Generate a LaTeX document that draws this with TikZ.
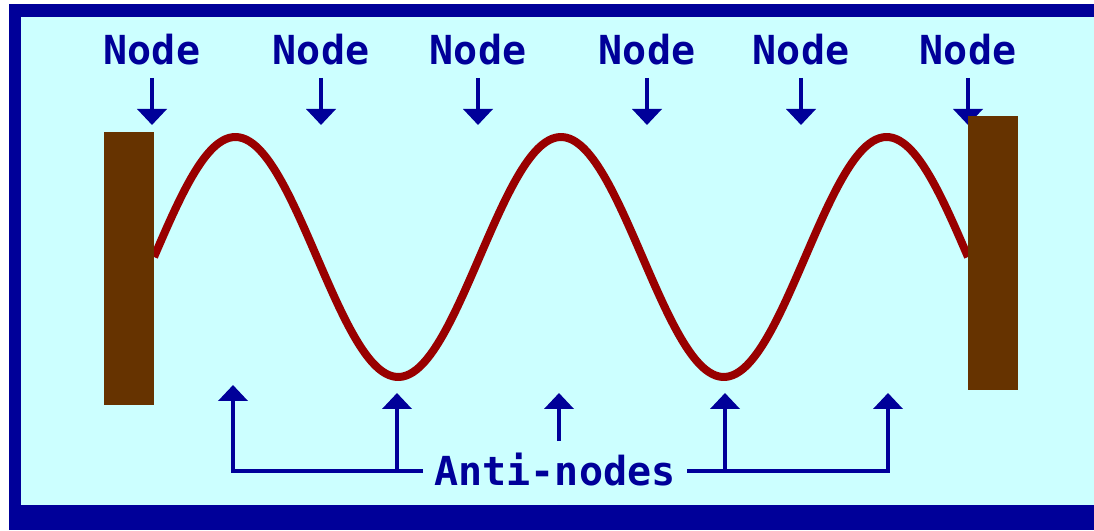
\documentclass[tikz,border=0pt]{standalone}
\usepackage{fontspec}
\usepackage{tikz}
\usetikzlibrary{arrows.meta, positioning}
\newfontfamily\pixfont{DejaVu Sans Mono}
\definecolor{swblue}{HTML}{000099}
\definecolor{swcyan}{HTML}{CCFFFF}
\definecolor{swbrown}{HTML}{663300}
\definecolor{swred}{HTML}{990000}

\begin{document}
\begin{tikzpicture}[
    x=1pt, y=1pt,
    lbl/.style={font=\pixfont\bfseries\fontsize{40}{44}\selectfont, text=swblue,
                inner sep=0pt, anchor=base},
    ptr/.style={draw=swblue, line width=4pt, -{Triangle[width=29pt, length=16pt]}},
    post/.style={fill=swbrown, draw=none},
]
    % frame and background
    \fill[white] (0,0) rectangle (1094,530);
    \fill[swblue] (9,0) rectangle (1094,526);
    \fill[swcyan] (21,25) rectangle (1094,513);
    \useasboundingbox (0,0) rectangle (1094,530);

    % nodes along the top
    \foreach \i/\x in {1/152, 2/321, 3/478, 4/647, 5/801, 6/968} {
        \node[lbl] (node\i) at (\x, 465) {Node};
        \coordinate (ntip\i) at (\x, 405);
        \draw[ptr] ([yshift=-12pt]node\i.south) -- (ntip\i);
    }

    % standing wave
    \draw[swred, line width=8pt, line join=round]
        plot[domain=154:968, samples=240, smooth] (\x, {273+120*sin(1.10565*(\x-154))});

    % posts at both ends
    \fill[post] (104,125) rectangle (154,398);
    \fill[post] (968,140) rectangle (1018,414);

    % anti-nodes
    \node[lbl] (anti) at (555, 45) {Anti-nodes};
    \coordinate (bl) at (423, 59);
    \coordinate (br) at (687, 59);
    \coordinate (atip1) at (233, 145);
    \coordinate (atip2) at (397, 137);
    \coordinate (atip3) at (559, 137);
    \coordinate (atip4) at (725, 137);
    \coordinate (atip5) at (888, 137);
    \coordinate (mid) at (559, 89);
    \draw[ptr] (bl) -| (atip1);
    \draw[ptr] (atip2 |- bl) -- (atip2);
    \draw[ptr] (mid) -- (atip3);
    \draw[ptr] (atip4 |- br) -- (atip4);
    \draw[ptr] (br) -| (atip5);
\end{tikzpicture}
\end{document}
